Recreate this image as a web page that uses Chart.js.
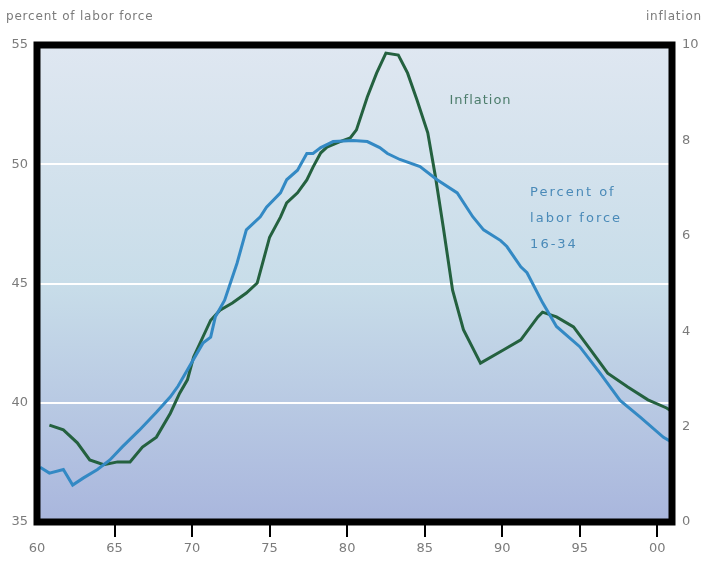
<!DOCTYPE html>
<html>
<head>
<meta charset="utf-8">
<script src="https://cdn.jsdelivr.net/npm/chart.js@4.4.1/dist/chart.umd.min.js"></script>
<style>
  html, body { margin: 0; padding: 0; background: #ffffff; }
  #wrap { width: 703px; height: 562px; }
</style>
</head>
<body>
<div id="wrap"><canvas id="c" width="703" height="562"></canvas></div>
<script>
// Share of the labor force aged 16-34 (percent, left axis)
const laborYears = [1960.2,1960.8,1961.7,1962.3,1963.0,1963.9,1964.7,1965.5,1966.6,1967.7,1968.6,1969.1,1970.7,1971.2,1971.5,1972.1,1972.9,1973.5,1974.4,1974.8,1975.7,1976.1,1976.8,1977.4,1977.8,1978.3,1979.1,1980.4,1981.3,1982.1,1982.6,1983.4,1984.7,1985.8,1987.1,1988.1,1988.8,1989.9,1990.3,1991.2,1991.6,1992.6,1993.5,1995.0,1996.3,1997.6,1998.9,2000.4,2000.8];
const laborShare = [37.3,37.05,37.2,36.55,36.85,37.2,37.6,38.15,38.85,39.6,40.25,40.7,42.5,42.75,43.6,44.3,45.85,47.25,47.8,48.2,48.8,49.35,49.75,50.45,50.45,50.7,50.95,51.0,50.95,50.7,50.45,50.2,49.9,49.35,48.8,47.8,47.25,46.8,46.55,45.7,45.45,44.2,43.2,42.35,41.25,40.1,39.4,38.55,38.4];

// Inflation rate (percent, right axis)
const inflYears = [1960.8,1961.7,1962.6,1963.4,1964.3,1965.2,1966.0,1966.8,1967.7,1968.6,1969.2,1969.7,1970.1,1971.2,1971.8,1972.6,1973.5,1974.2,1974.6,1975.0,1975.7,1976.1,1976.8,1977.4,1977.8,1978.3,1978.7,1979.5,1980.2,1980.6,1981.3,1981.9,1982.5,1983.3,1983.9,1984.5,1985.2,1985.7,1986.2,1986.8,1987.5,1988.6,1990.1,1991.2,1992.3,1992.6,1993.5,1994.6,1995.7,1996.8,1998.1,1999.4,2000.6,2000.8];
const inflRate = [2.03,1.93,1.66,1.3,1.2,1.26,1.26,1.57,1.78,2.28,2.7,2.98,3.46,4.23,4.44,4.59,4.8,5.01,5.49,5.97,6.39,6.69,6.9,7.17,7.44,7.74,7.86,7.97,8.05,8.22,8.91,9.41,9.83,9.79,9.41,8.85,8.16,7.23,6.18,4.86,4.03,3.33,3.61,3.82,4.3,4.4,4.3,4.09,3.61,3.12,2.83,2.56,2.39,2.35];

// Axis ticks
const xTickYears = [1960,1965,1970,1975,1980,1985,1990,1995,2000];
const leftTicks = [35,40,45,50,55];
const rightTicks = [0,2,4,6,8,10];
const gridValues = [40,45,50];

const FONT = "'DejaVu Sans', Verdana, sans-serif";
const GREY = '#7b7b7b';

const toPoints = (xs, ys) => xs.map((x, i) => ({ x: x, y: ys[i] }));

// Plot background, black frame and the in-chart labels
const framePlugin = {
  id: 'frame',
  beforeDraw(chart) {
    const { ctx, chartArea: a } = chart;
    const g = ctx.createLinearGradient(0, a.top, 0, a.bottom);
    g.addColorStop(0, '#dfe7f1');
    g.addColorStop(0.5, '#c8dde9');
    g.addColorStop(1, '#a9b6dd');
    ctx.save();
    ctx.fillStyle = g;
    ctx.fillRect(a.left, a.top, a.right - a.left, a.bottom - a.top);
    ctx.restore();
  },
  afterDraw(chart) {
    const { ctx, chartArea: a, scales } = chart;
    ctx.save();
    ctx.strokeStyle = '#000000';
    ctx.lineWidth = 7;
    ctx.strokeRect(a.left, a.top, a.right - a.left, a.bottom - a.top);

    ctx.font = '12px ' + FONT;
    ctx.fillStyle = GREY;
    ctx.textBaseline = 'middle';
    if ('letterSpacing' in ctx) ctx.letterSpacing = '0.8px';
    ctx.textAlign = 'left';
    ctx.fillText('percent of labor force', 6, 17);
    ctx.textAlign = 'right';
    ctx.fillText('inflation', 702, 17);

    const x = scales.x, y = scales.y;
    ctx.font = '13px ' + FONT;
    ctx.textAlign = 'left';
    if ('letterSpacing' in ctx) ctx.letterSpacing = '1px';
    ctx.fillStyle = '#4d7d6c';
    ctx.fillText('Inflation', x.getPixelForValue(1986.6), y.getPixelForValue(52.65));
    if ('letterSpacing' in ctx) ctx.letterSpacing = '2px';
    ctx.fillStyle = '#4a8ab8';
    const lx = x.getPixelForValue(1991.8);
    ctx.fillText('Percent of', lx, y.getPixelForValue(48.8));
    ctx.fillText('labor force', lx, y.getPixelForValue(47.7));
    ctx.fillText('16-34', lx, y.getPixelForValue(46.65));
    ctx.restore();
  }
};

new Chart(document.getElementById('c'), {
  type: 'line',
  data: {
    datasets: [
      {
        label: 'Percent of labor force 16-34',
        data: toPoints(laborYears, laborShare),
        yAxisID: 'y',
        borderColor: '#3389c4',
        borderWidth: 3,
        pointRadius: 0,
        tension: 0,
        fill: false
      },
      {
        label: 'Inflation',
        data: toPoints(inflYears, inflRate),
        yAxisID: 'y1',
        borderColor: '#24613f',
        borderWidth: 3,
        pointRadius: 0,
        tension: 0,
        fill: false
      }
    ]
  },
  options: {
    responsive: false,
    animation: false,
    layout: { padding: { top: 45, left: 0, right: 0, bottom: 0 } },
    plugins: { legend: { display: false }, tooltip: { enabled: false } },
    scales: {
      x: {
        type: 'linear',
        min: 1960,
        max: 2000.95,
        afterBuildTicks: s => { s.ticks = xTickYears.map(v => ({ value: v })); },
        afterFit: s => { s.height = 40; },
        border: { display: false },
        grid: {
          drawOnChartArea: false,
          drawTicks: true,
          tickLength: 15,
          lineWidth: 2,
          color: c => (c.tick && c.tick.value === 1960) ? 'rgba(0,0,0,0)' : '#000000'
        },
        ticks: {
          padding: 4,
          maxRotation: 0,
          color: GREY,
          font: { family: FONT, size: 13 },
          callback: v => String(v % 100).padStart(2, '0')
        }
      },
      y: {
        position: 'left',
        min: 35,
        max: 55,
        afterBuildTicks: s => { s.ticks = leftTicks.map(v => ({ value: v })); },
        afterFit: s => { s.width = 37; },
        border: { display: false },
        grid: {
          drawTicks: false,
          lineWidth: 2,
          color: c => (c.tick && gridValues.includes(c.tick.value)) ? '#ffffff' : 'rgba(0,0,0,0)'
        },
        ticks: {
          padding: 9,
          color: GREY,
          font: { family: FONT, size: 13 }
        }
      },
      y1: {
        position: 'right',
        min: 0,
        max: 10,
        afterBuildTicks: s => { s.ticks = rightTicks.map(v => ({ value: v })); },
        afterFit: s => { s.width = 31; },
        border: { display: false },
        grid: { drawOnChartArea: false, drawTicks: false },
        ticks: {
          padding: 10,
          color: GREY,
          font: { family: FONT, size: 13 }
        }
      }
    }
  },
  plugins: [framePlugin]
});
</script>
</body>
</html>
